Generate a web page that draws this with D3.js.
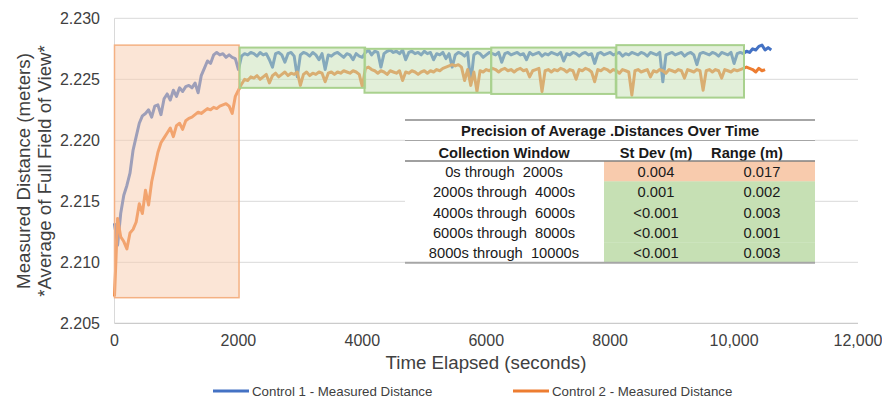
<!doctype html>
<html>
<head>
<meta charset="UTF-8">
<title>Measured Distance Over Time</title>
<script src="https://cdn.jsdelivr.net/npm/d3@7"></script>
<style>
  body { margin: 0; background: #fff; }
  svg text { font-family: "Liberation Sans", Arial, sans-serif; fill: #404040; }
</style>
</head>
<body>
<svg id="chart" width="882" height="403"></svg>
<script>
// seconds between samples
const STEP = 50;

// Control 1 - Measured Distance (m), t = 0, 50, 100 ...
const control1 = [
  2.2132, 2.2114, 2.2140, 2.2155, 2.2163, 2.2173, 2.2192, 2.2203, 2.2214, 2.2220,
  2.2222, 2.2225, 2.2219, 2.2228, 2.2229, 2.2221, 2.2234, 2.2238, 2.2233, 2.2241,
  2.2236, 2.2243, 2.2240, 2.2244, 2.2245, 2.2243, 2.2247, 2.2239, 2.2253, 2.2259,
  2.2265, 2.2263, 2.2270, 2.2272, 2.2270, 2.2271, 2.2268, 2.2270, 2.2268, 2.2267,
  2.2258,
  2.2269, 2.2271, 2.2270, 2.2272, 2.2271, 2.2269, 2.2272, 2.2270, 2.2271, 2.2266,
  2.2260, 2.2271, 2.2272, 2.2270, 2.2264, 2.2271, 2.2272, 2.2269, 2.2252, 2.2270,
  2.2272, 2.2271, 2.2269, 2.2272, 2.2270, 2.2266, 2.2271, 2.2258, 2.2270, 2.2269,
  2.2271, 2.2272, 2.2270, 2.2268, 2.2271, 2.2270, 2.2266, 2.2271, 2.2269, 2.2268,
  2.2272, 2.2274, 2.2270, 2.2273, 2.2272, 2.2260, 2.2271, 2.2273, 2.2274, 2.2272,
  2.2273, 2.2271, 2.2274, 2.2266, 2.2272, 2.2273, 2.2271, 2.2272, 2.2270, 2.2273,
  2.2271, 2.2272, 2.2266, 2.2271, 2.2270, 2.2272, 2.2267, 2.2271, 2.2260, 2.2270,
  2.2272, 2.2271, 2.2269, 2.2272, 2.2247, 2.2270, 2.2272, 2.2271, 2.2268, 2.2270,
  2.2272, 2.2271, 2.2270, 2.2272, 2.2264, 2.2271, 2.2272, 2.2270, 2.2271, 2.2272,
  2.2270, 2.2271, 2.2266, 2.2272, 2.2270, 2.2271, 2.2272, 2.2269, 2.2271, 2.2270,
  2.2272, 2.2271, 2.2270, 2.2272, 2.2265, 2.2271, 2.2270, 2.2272, 2.2271, 2.2269,
  2.2271, 2.2272, 2.2270, 2.2271, 2.2263, 2.2271, 2.2272, 2.2270, 2.2271, 2.2272,
  2.2270, 2.2271, 2.2272, 2.2269, 2.2271, 2.2270, 2.2272, 2.2271, 2.2270, 2.2272,
  2.2271, 2.2269, 2.2272, 2.2271, 2.2270, 2.2272, 2.2248, 2.2270, 2.2271, 2.2272,
  2.2270, 2.2271, 2.2272, 2.2269, 2.2271, 2.2272, 2.2270, 2.2262, 2.2271, 2.2272,
  2.2271, 2.2270, 2.2272, 2.2271, 2.2269, 2.2272, 2.2271, 2.2270, 2.2272, 2.2263,
  2.2271, 2.2272, 2.2271, 2.2273, 2.2272, 2.2275, 2.2274, 2.2277, 2.2278, 2.2274,
  2.2276, 2.2274
];

// Control 2 - Measured Distance (m), t = 0, 50, 100 ...
const control2 = [
  2.2072, 2.2136, 2.2121, 2.2117, 2.2111, 2.2124, 2.2127, 2.2133, 2.2148, 2.2140,
  2.2159, 2.2147, 2.2166, 2.2178, 2.2190, 2.2198, 2.2202, 2.2206, 2.2210, 2.2203,
  2.2212, 2.2214, 2.2209, 2.2216, 2.2218, 2.2219, 2.2221, 2.2223, 2.2222, 2.2224,
  2.2226, 2.2225, 2.2227, 2.2226, 2.2228, 2.2229, 2.2230, 2.2228, 2.2222, 2.2236,
  2.2241,
  2.2246, 2.2250, 2.2249, 2.2252, 2.2251, 2.2253, 2.2250, 2.2252, 2.2254, 2.2247,
  2.2253, 2.2255, 2.2252, 2.2254, 2.2256, 2.2253, 2.2255, 2.2254, 2.2256, 2.2245,
  2.2254, 2.2256, 2.2253, 2.2255, 2.2254, 2.2256, 2.2255, 2.2248, 2.2255, 2.2256,
  2.2254, 2.2256, 2.2255, 2.2257, 2.2256, 2.2255, 2.2257, 2.2256, 2.2254, 2.2244,
  2.2259, 2.2260, 2.2258, 2.2257, 2.2255, 2.2257, 2.2256, 2.2254, 2.2257, 2.2256,
  2.2255, 2.2257, 2.2249, 2.2256, 2.2255, 2.2257, 2.2256, 2.2254, 2.2256, 2.2257,
  2.2255, 2.2257, 2.2256, 2.2258, 2.2257, 2.2259, 2.2260, 2.2261, 2.2262, 2.2261,
  2.2262, 2.2260, 2.2249, 2.2258, 2.2245, 2.2256, 2.2240, 2.2257, 2.2256, 2.2258,
  2.2257, 2.2259, 2.2258, 2.2256, 2.2258, 2.2259, 2.2257, 2.2258, 2.2256, 2.2258,
  2.2259, 2.2257, 2.2258, 2.2252, 2.2257, 2.2258, 2.2259, 2.2240, 2.2257, 2.2258,
  2.2256, 2.2258, 2.2257, 2.2259, 2.2258, 2.2256, 2.2258, 2.2257, 2.2250, 2.2258,
  2.2257, 2.2259, 2.2258, 2.2256, 2.2248, 2.2258, 2.2257, 2.2259, 2.2258, 2.2256,
  2.2258, 2.2257, 2.2255, 2.2258, 2.2257, 2.2256, 2.2237, 2.2257, 2.2258, 2.2256,
  2.2257, 2.2258, 2.2252, 2.2257, 2.2256, 2.2258, 2.2257, 2.2255, 2.2258, 2.2257,
  2.2256, 2.2258, 2.2257, 2.2251, 2.2258, 2.2257, 2.2256, 2.2258, 2.2257, 2.2241,
  2.2257, 2.2258, 2.2256, 2.2258, 2.2257, 2.2251, 2.2258, 2.2257, 2.2256, 2.2258,
  2.2257, 2.2258, 2.2259, 2.2260, 2.2259, 2.2258, 2.2256, 2.2259, 2.2257, 2.2258
];

const seriesNames = ["Control 1 - Measured Distance", "Control 2 - Measured Distance"];
const seriesColors = ["#4472c4", "#ed7d31"];

const yTicks = [2.205, 2.210, 2.215, 2.220, 2.225, 2.230];
const yTickLabels = ["2.205", "2.210", "2.215", "2.220", "2.225", "2.230"];
const xTicks = [0, 2000, 4000, 6000, 8000, 10000, 12000];
const xTickLabels = ["0", "2000", "4000", "6000", "8000", "10,000", "12,000"];

// highlighted collection windows (seconds, metres)
const boxStart = [0, 2020, 4035, 6080, 8100];
const boxEnd   = [2010, 4045, 6080, 8090, 10160];
const boxHigh  = [2.2278, 2.2276, 2.2275, 2.2276, 2.2278];
const boxLow   = [2.2071, 2.2243, 2.2239, 2.2238, 2.2235];
const boxKind  = ["warm", "steady", "steady", "steady", "steady"];

// precision table
const tableTitle = "Precision of Average .Distances Over Time";
const tableHeaders = ["Collection Window", "St Dev (m)", "Range (m)"];
const windowLabels = [
  "0s through\u00a0 2000s",
  "2000s through\u00a0 4000s",
  "4000s through\u00a0 6000s",
  "6000s through\u00a0 8000s",
  "8000s through\u00a0 10000s"
];
const stDev = ["0.004", "0.001", "<0.001", "<0.001", "<0.001"];
const rangeM = ["0.017", "0.002", "0.003", "0.001", "0.003"];

const svg = d3.select("#chart");

const x = d3.scaleLinear().domain([0, 12000]).range([114.5, 858]);
const y = d3.scaleLinear().domain([2.205, 2.230]).range([323.3, 18.3]);

// grid
svg.append("g")
  .selectAll("line")
  .data(yTicks.slice(1))
  .join("line")
  .attr("x1", x(0)).attr("x2", x(12000))
  .attr("y1", d => y(d)).attr("y2", d => y(d))
  .attr("stroke", "#d9d9d9").attr("stroke-width", 1);

svg.append("line")
  .attr("x1", x(0)).attr("x2", x(0))
  .attr("y1", y(2.230)).attr("y2", y(2.205))
  .attr("stroke", "#d9d9d9");

svg.append("line")
  .attr("x1", x(0)).attr("x2", x(12000))
  .attr("y1", y(2.205)).attr("y2", y(2.205))
  .attr("stroke", "#bfbfbf");

// tick labels
svg.append("g")
  .selectAll("text")
  .data(yTicks)
  .join("text")
  .attr("x", 100)
  .attr("y", d => y(d))
  .attr("dy", "0.35em")
  .attr("text-anchor", "end")
  .style("font-size", "16px")
  .text((d, i) => yTickLabels[i]);

svg.append("g")
  .selectAll("text")
  .data(xTicks)
  .join("text")
  .attr("x", d => x(d))
  .attr("y", 346)
  .attr("text-anchor", "middle")
  .style("font-size", "16px")
  .text((d, i) => xTickLabels[i]);

// axis titles
svg.append("text")
  .attr("x", 486).attr("y", 368.5)
  .attr("text-anchor", "middle")
  .style("font-size", "18.7px")
  .text("Time Elapsed (seconds)");

const yTitle = svg.append("text")
  .attr("transform", "translate(30,171) rotate(-90)")
  .attr("text-anchor", "middle")
  .style("font-size", "18.7px");
yTitle.append("tspan").attr("x", 0).attr("y", 0).text("Measured Distance (meters)");
yTitle.append("tspan").attr("x", 0).attr("y", 20.5).text("*Average of Full Field of View*");

// series
const line = d3.line()
  .x((d, i) => x(i * STEP))
  .y(d => y(d));

[control1, control2].forEach((s, k) => {
  svg.append("path")
    .datum(s)
    .attr("fill", "none")
    .attr("stroke", seriesColors[k])
    .attr("stroke-width", 3)
    .attr("stroke-linejoin", "round")
    .attr("d", line);
});

// window boxes sit on top of the lines, half transparent
const boxStroke = { warm: "#f4b183", steady: "#a9d18e" };
svg.append("g")
  .selectAll("rect")
  .data(boxStart)
  .join("rect")
  .attr("x", (d, i) => x(d))
  .attr("y", (d, i) => y(boxHigh[i]))
  .attr("width", (d, i) => x(boxEnd[i]) - x(d))
  .attr("height", (d, i) => y(boxLow[i]) - y(boxHigh[i]))
  .attr("fill", (d, i) => boxKind[i] === "warm" ? "#f8cbad" : "#c5e0b4")
  .attr("fill-opacity", 0.5)
  .attr("stroke", (d, i) => boxStroke[boxKind[i]])
  .attr("stroke-width", (d, i) => boxKind[i] === "warm" ? 1.5 : 2);

// precision table
const tb = { left: 405, right: 815, top: 120, titleBottom: 140.5, headBottom: 161, rowH: 20.34 };
const colX = [504, 656, 747];
const valX = [504, 656, 762];
const cellLeft = 604;
const tableFont = "14.7px";

const table = svg.append("g");
table.append("rect")
  .attr("x", tb.left).attr("y", tb.top)
  .attr("width", tb.right - tb.left)
  .attr("height", tb.headBottom + tb.rowH * windowLabels.length - tb.top)
  .attr("fill", "#fff");

table.selectAll("rect.cell")
  .data(windowLabels)
  .join("rect")
  .attr("class", "cell")
  .attr("x", cellLeft)
  .attr("y", (d, i) => tb.headBottom + i * tb.rowH)
  .attr("width", tb.right - cellLeft)
  .attr("height", tb.rowH + 0.3)
  .attr("fill", (d, i) => i === 0 ? "#f8cbad" : "#c6e0b4");

table.append("text")
  .attr("x", 610).attr("y", 135.8)
  .attr("text-anchor", "middle")
  .style("font-size", tableFont).style("font-weight", "bold")
  .style("fill", "#1a1a1a")
  .text(tableTitle);

table.selectAll("text.head")
  .data(tableHeaders)
  .join("text")
  .attr("class", "head")
  .attr("x", (d, i) => colX[i]).attr("y", 157.8)
  .attr("text-anchor", "middle")
  .style("font-size", tableFont).style("font-weight", "bold")
  .style("fill", "#1a1a1a")
  .text(d => d);

const rows = windowLabels.map((w, i) => [w, stDev[i], rangeM[i]]);
rows.forEach((r, i) => {
  table.selectAll(null)
    .data(r)
    .join("text")
    .attr("x", (d, j) => valX[j])
    .attr("y", tb.headBottom + (i + 0.5) * tb.rowH + 5.8)
    .attr("text-anchor", "middle")
    .style("font-size", tableFont)
    .style("fill", "#1a1a1a")
    .text(d => d);
});

const tableBottom = tb.headBottom + tb.rowH * windowLabels.length;
[[tb.top, 2, "#a6a6a6"], [tb.titleBottom, 1, "#a6a6a6"], [tb.headBottom, 1.5, "#808080"], [tableBottom, 2, "#a6a6a6"]]
  .forEach(([yy, w, c]) => {
    table.append("line")
      .attr("x1", tb.left).attr("x2", tb.right)
      .attr("y1", yy).attr("y2", yy)
      .attr("stroke", c).attr("stroke-width", w);
  });

// legend
const legendX = [213, 513];
const legend = svg.append("g");
seriesNames.forEach((name, k) => {
  legend.append("line")
    .attr("x1", legendX[k]).attr("x2", legendX[k] + 36)
    .attr("y1", 391).attr("y2", 391)
    .attr("stroke", seriesColors[k]).attr("stroke-width", 3);
  legend.append("text")
    .attr("x", legendX[k] + 39).attr("y", 395.5)
    .style("font-size", "13.3px")
    .text(name);
});
</script>
</body>
</html>
